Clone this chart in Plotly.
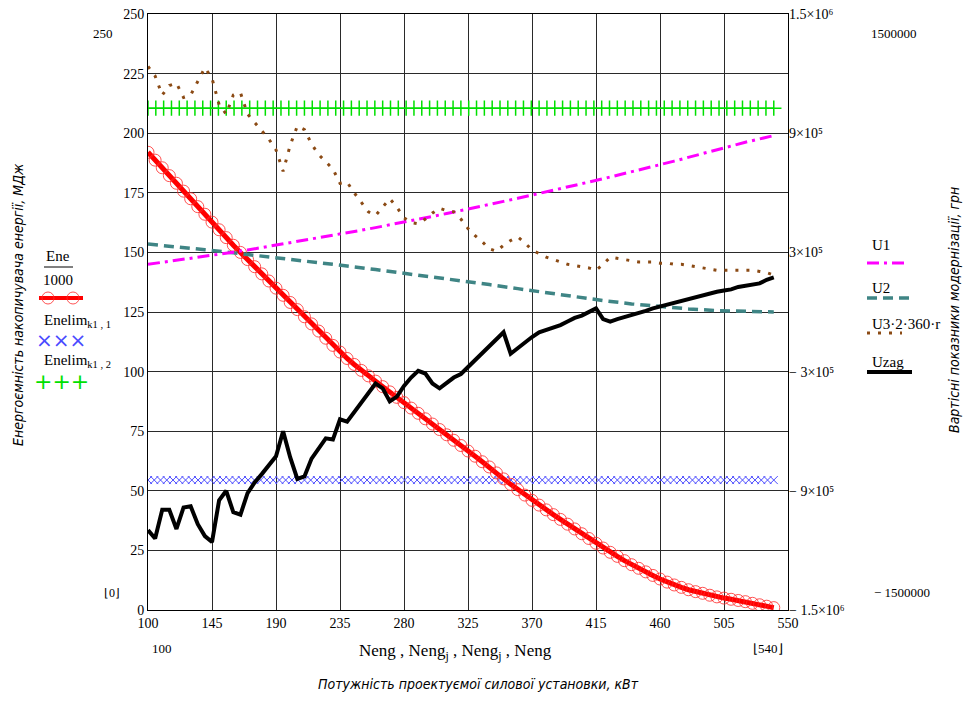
import plotly.graph_objects as go

# ---------------- data ----------------
Neng = list(range(100, 541, 5))          # kW, step 5
Neng10 = list(range(100, 541, 10))       # kW, step 10
Neng20 = list(range(100, 541, 20))       # kW, step 20
Neng_j = [100 + 4.4 * i for i in range(101)]
Neng_j2 = [100 + 5.5 * i for i in range(81)]

# Ene/1000, MJ (left axis)
Ene_1000 = [192, 188.7, 185.5, 182.2, 179, 175.7, 172.5, 169.2, 166, 162.7,
            159.5, 156.2, 153, 150, 147, 144, 141, 138, 135, 132,
            129, 126, 123, 120, 117, 114, 111, 108.2, 105.5, 103,
            100.5, 98.2, 96, 93.7, 91.5, 89.2, 87, 84.7, 82.5, 80.2,
            78, 75.7, 73.5, 71.2, 69, 66.7, 64.5, 62.2, 60, 57.5,
            55, 52.7, 50.5, 48.2, 46, 44, 42, 40, 38, 36,
            34, 32, 30, 28, 26, 24.2, 22.5, 20.7, 19, 17.5,
            16, 14.5, 13, 11.7, 10.5, 9.5, 8.5, 7.7, 7, 6.2,
            5.5, 5, 4.5, 4, 3.5, 2.8, 2.2, 1.6, 1]

Enelim_k1_1 = [54.5] * len(Neng_j)
Enelim_k1_2 = [210.5] * len(Neng_j2)

# cost indicators, UAH (right axis)
U1 = [240000, 249600, 259200, 268800, 279600, 290400, 301200, 312000, 324000, 336000,
      348000, 360000, 372000, 385200, 398400, 411600, 424800, 438000, 452400, 466800,
      481200, 495600, 510000, 525600, 541200, 556800, 572400, 588000, 603600, 620400,
      637200, 654000, 670800, 687600, 705600, 723600, 741600, 759600, 777600, 796800,
      816000, 835200, 854400, 870000, 888000]

U2 = [342000, 328800, 313200, 297600, 282000, 265200, 248400, 231600, 213600, 195600,
      176400, 157200, 138000, 117600, 97200, 76800, 57600, 40800, 26400, 15600,
      7200, 2400, 0]

U3_2_360_r = [1236000, 1188000, 1092000, 1140000, 1152000, 1080000, 1092000, 1164000, 1230000, 1176000,
              1044000, 996000, 1092000, 1104000, 996000, 954000, 912000, 870000, 816000, 708000,
              840000, 936000, 918000, 846000, 792000, 756000, 720000, 648000, 654000, 600000,
              552000, 504000, 486000, 528000, 570000, 528000, 474000, 450000, 444000, 468000,
              498000, 522000, 510000, 504000, 468000, 420000, 384000, 354000, 318000, 306000,
              336000, 360000, 378000, 348000, 312000, 294000, 276000, 264000, 252000, 240000,
              234000, 228000, 222000, 210000, 240000, 276000, 270000, 264000, 258000, 252000,
              252000, 252000, 246000, 246000, 240000, 240000, 234000, 228000, 222000, 216000,
              210000, 210000, 210000, 210000, 210000, 210000, 204000, 198000, 186000]

Uzag = [-1098000, -1140000, -996000, -996000, -1092000, -984000, -978000, -1068000, -1128000, -1158000,
        -948000, -900000, -1008000, -1020000, -912000, -858000, -816000, -774000, -726000, -600000,
        -732000, -840000, -828000, -738000, -690000, -636000, -642000, -540000, -552000, -504000,
        -462000, -414000, -360000, -384000, -450000, -426000, -372000, -330000, -296400, -309600,
        -360000, -384000, -354000, -330000, -312000, -276000, -240000, -204000, -168000, -138000,
        -102000, -210000, -180000, -156000, -126000, -102000, -90000, -78000, -66000, -48000,
        -30000, -18000, 0, 18000, -36000, -48000, -36000, -26400, -18000, -6000,
        6000, 18000, 27600, 36000, 48000, 57600, 66000, 75600, 84000, 96000,
        102000, 108000, 114000, 126000, 132000, 138000, 144000, 162000, 174000]

x_ticks = [100, 145, 190, 235, 280, 325, 370, 415, 460, 505, 550]
y_ticks = [0, 25, 50, 75, 100, 125, 150, 175, 200, 225, 250]
y2_ticks = [-1500000, -900000, -300000, 300000, 900000, 1500000]
y2_labels = ["\u2212 1.5\u00d710\u2076", "\u2212 9\u00d710\u2075", "\u2212 3\u00d710\u2075",
             "3\u00d710\u2075", "9\u00d710\u2075", "1.5\u00d710\u2076"]

# ---------------- figure ----------------
# page body has an 8px margin, so the figure is 16px smaller than the window
OFF = 8
W, H = 972 - 2 * OFF, 706 - 2 * OFF
L, T = 148 - OFF, 14 - OFF
PW, PH = 640, 596
R, B = W - L - PW, H - T - PH

SERIF = "Liberation Serif"
NARROW = "Liberation Sans Narrow, DejaVu Sans Condensed, Arial Narrow, sans-serif"


def px(x):
    return (x - OFF - L) / PW


def py(y):
    return (T + PH - (y - OFF)) / PH


fig = go.Figure()

fig.add_trace(go.Scatter(x=Neng_j2, y=Enelim_k1_2, mode="markers",
                         marker=dict(symbol="cross-thin", size=11, line=dict(color="#00e000", width=1.5)),
                         name="Enelim k1,2"))
fig.add_trace(go.Scatter(x=Neng_j, y=Enelim_k1_1, mode="markers",
                         marker=dict(symbol="x-thin", size=8, line=dict(color="#4a4aff", width=1)),
                         name="Enelim k1,1"))
fig.add_trace(go.Scatter(x=Neng20, y=U2, yaxis="y2", mode="lines",
                         line=dict(color="#3f8585", width=3.5, dash="10px,6px"), name="U2"))
fig.add_trace(go.Scatter(x=Neng10, y=U1, yaxis="y2", mode="lines",
                         line=dict(color="#ff00ff", width=3, dash="12px,5px,3px,5px"), name="U1"))
fig.add_trace(go.Scatter(x=Neng, y=U3_2_360_r, yaxis="y2", mode="lines",
                         line=dict(color="#8b4a14", width=3, dash="3px,8px"), name="U3*2*360*r"))
fig.add_trace(go.Scatter(x=Neng, y=Ene_1000, mode="lines+markers",
                         line=dict(color="#ff0000", width=5),
                         marker=dict(symbol="circle-open", size=12, color="rgba(255,40,40,0.8)",
                                     line=dict(width=1)),
                         name="Ene/1000"))
fig.add_trace(go.Scatter(x=Neng, y=Uzag, yaxis="y2", mode="lines",
                         line=dict(color="#000000", width=4), name="Uzag"))

ann = []


def text(x, y, s, size=14, color="black", family=SERIF, angle=0, style="normal", xanchor="center"):
    ann.append(dict(x=px(x), y=py(y), xref="paper", yref="paper", text=s, showarrow=False,
                    textangle=angle, xanchor=xanchor, yanchor="middle",
                    font=dict(family=family, size=size, color=color, style=style)))


# limit labels (Mathcad style)
text(103, 33, "250", 13)
text(112, 593, "\u230a0\u230b", 12)
text(162, 648, "100", 13)
text(768, 648, "\u230a540\u230b", 13)
text(894, 33, "1500000", 13)
text(902, 592, "\u2212 1500000", 13)

# axis titles
text(455, 652, "Neng , Neng<sub>j</sub> , Neng<sub>j</sub> , Neng", 17)
text(478, 684, "Потужність проектуємої силової установки, кВт", 14, family=NARROW, style="italic")
text(18, 305, "Енергоємність накопичувача енергії, МДж", 14, family=NARROW, style="italic", angle=-90)
text(954, 310, "Вартісні показники модернізації, грн", 14, family=NARROW, style="italic", angle=-90)

# left legend
text(58, 256, "Ene", 15)
text(58, 280, "1000", 15)
text(42, 321, "Enelim<sub>k1 , 1</sub>", 15, xanchor="left")
text(61, 340, "\u00d7\u00d7\u00d7", 20, color="#4a4aff", family="DejaVu Sans")
text(42, 361, "Enelim<sub>k1 , 2</sub>", 15, xanchor="left")
text(61, 381, "+++", 22, color="#00e000", family="DejaVu Sans")

# right legend
text(870, 245, "U1", 15, xanchor="left")
text(870, 288, "U2", 15, xanchor="left")
text(870, 324, "U3\u00b72\u00b7360\u00b7r", 15, xanchor="left")
text(870, 362, "Uzag", 15, xanchor="left")

shapes = []


def seg(x0, x1, y, color, width, dash="solid"):
    shapes.append(dict(type="line", xref="paper", yref="paper", x0=px(x0), x1=px(x1),
                       y0=py(y), y1=py(y), line=dict(color=color, width=width, dash=dash)))


seg(44, 73, 267, "black", 1)
seg(39, 83, 298, "#ff0000", 4)
for cx in (48, 73):
    shapes.append(dict(type="circle", xref="paper", yref="paper",
                       x0=px(cx - 6), x1=px(cx + 6), y0=py(298 + 6), y1=py(298 - 6),
                       line=dict(color="rgba(255,40,40,0.8)", width=1)))
seg(867, 905, 263, "#ff00ff", 3, "12px,5px,3px,5px")
seg(867, 910, 298, "#3f8585", 3.5, "10px,6px")
seg(867, 902, 333, "#8b4a14", 3, "3px,8px")
seg(867, 912, 372, "#000000", 4)

fig.update_layout(
    width=W, height=H, margin=dict(l=L, r=R, t=T, b=B, autoexpand=False),
    paper_bgcolor="white", plot_bgcolor="white", showlegend=False,
    font=dict(family=SERIF, size=13, color="black"),
    xaxis=dict(range=[100, 550], tickvals=x_ticks, showgrid=True, gridcolor="#2a2a2a", gridwidth=1,
               zeroline=False, showline=True, linecolor="black", linewidth=1, mirror=True,
               ticks="", tickfont=dict(family=SERIF, size=14), automargin=False,
               ticklabeloverflow="allow"),
    yaxis=dict(range=[0, 250], tickvals=y_ticks, showgrid=True, gridcolor="#2a2a2a", gridwidth=1,
               zeroline=False, showline=True, linecolor="black", linewidth=1, mirror=True,
               ticks="", tickfont=dict(family=SERIF, size=14), automargin=False,
               ticklabeloverflow="allow"),
    yaxis2=dict(range=[-1500000, 1500000], overlaying="y", side="right", tickvals=y2_ticks,
                ticktext=y2_labels, showgrid=False, zeroline=False, showline=False,
                ticks="", tickfont=dict(family=SERIF, size=14), automargin=False,
                ticklabeloverflow="allow"),
    annotations=ann, shapes=shapes,
)

fig.write_html("out.html")
